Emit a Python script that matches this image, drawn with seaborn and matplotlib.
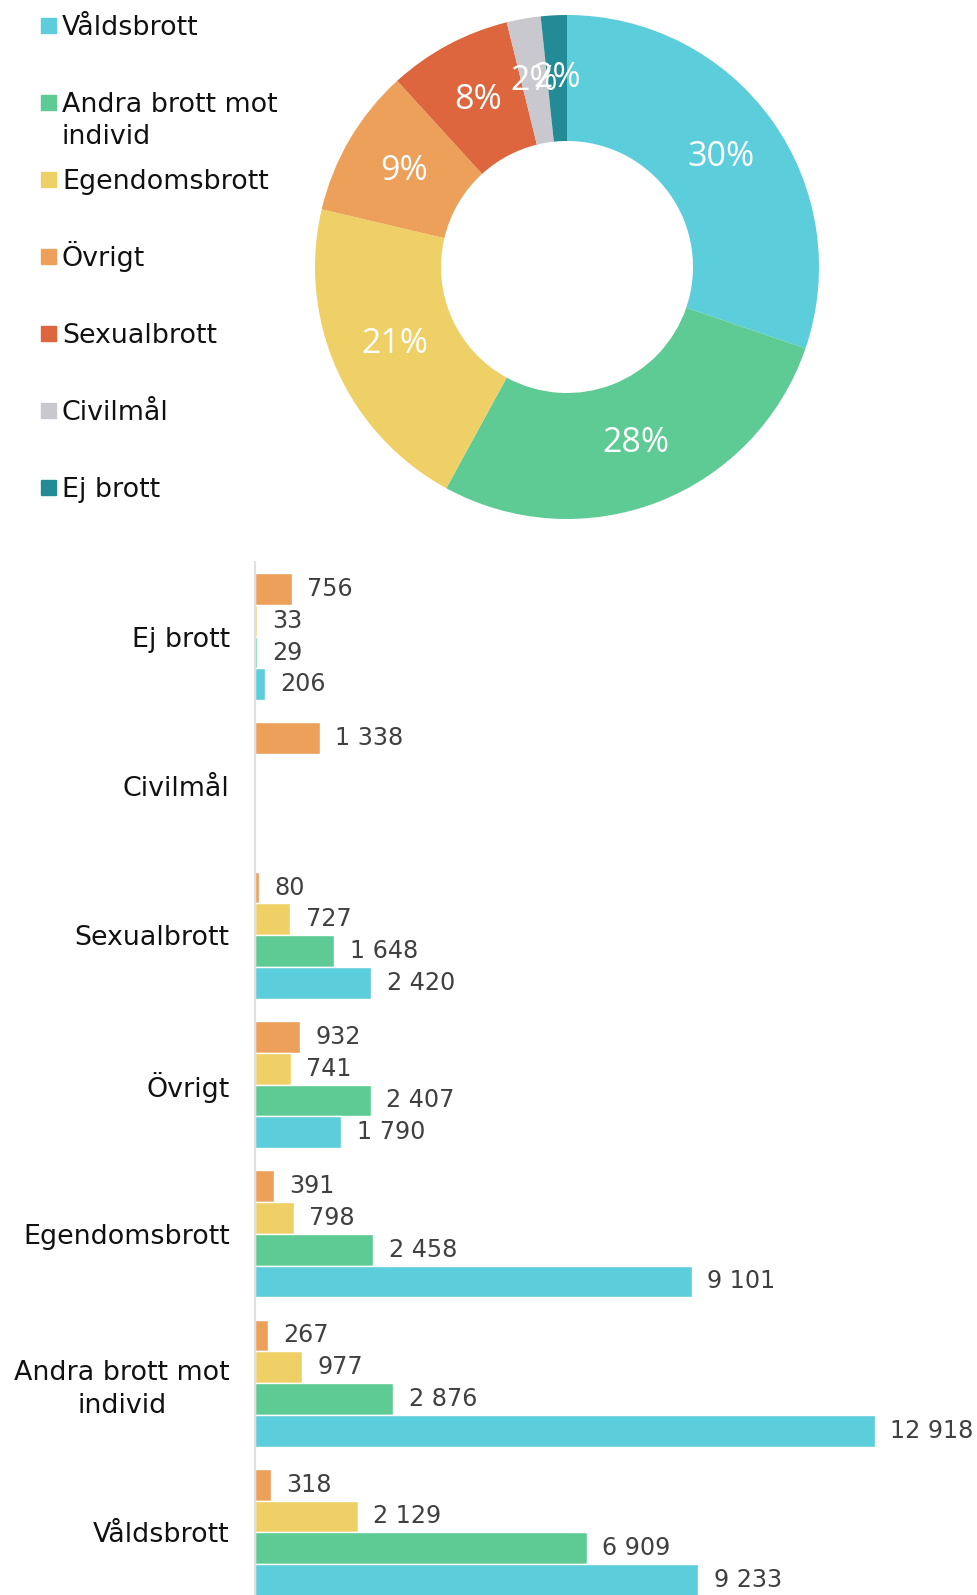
import seaborn as sns
import matplotlib.pyplot as plt
import matplotlib.patches as mpatches
import pandas as pd
import numpy as np

# categories, top to bottom in the bar chart
categories = ['Ej brott', 'Civilmål', 'Sexualbrott', 'Övrigt',
              'Egendomsbrott', 'Andra brott mot individ', 'Våldsbrott']
series_names = ['Serie 1', 'Serie 2', 'Serie 3', 'Serie 4']
serie_1 = [756, 1338, 80, 932, 391, 267, 318]              # orange
serie_2 = [33, np.nan, 727, 741, 798, 977, 2129]           # yellow
serie_3 = [29, np.nan, 1648, 2407, 2458, 2876, 6909]       # green
serie_4 = [206, np.nan, 2420, 1790, 9101, 12918, 9233]     # cyan
bar_colors = ['#ECA05A', '#EFD066', '#5DCB93', '#5BCDDB']

# donut order (clockwise from top) and colours
donut_order = ['Våldsbrott', 'Andra brott mot individ', 'Egendomsbrott',
               'Övrigt', 'Sexualbrott', 'Civilmål', 'Ej brott']
donut_colors = ['#5BCDDB', '#5DCB93', '#EFD066', '#ECA05A',
                '#DD663E', '#C8C8CE', '#228B96']

df = pd.DataFrame({'category': categories, 'Serie 1': serie_1, 'Serie 2': serie_2,
                   'Serie 3': serie_3, 'Serie 4': serie_4})
long_df = df.melt(id_vars='category', var_name='series', value_name='value').dropna()

totals = long_df.groupby('category')['value'].sum().reindex(donut_order)


def round_percent(values):
    # largest remainder rounding so the labels add up to 100
    raw = np.asarray(values, dtype=float) / np.sum(values) * 100
    floors = np.floor(raw).astype(int)
    rest = 100 - floors.sum()
    order = np.argsort(-(raw - floors))
    floors[order[:rest]] += 1
    return floors


pcts = round_percent(totals.values)

sns.set_style('white')
plt.rcParams['font.family'] = ['DejaVu Sans']

W, H = 977, 1595
fig = plt.figure(figsize=(W / 100, H / 100), dpi=100)

# donut
cx, cy, r = 567, 267, 252
ax_pie = fig.add_axes([(cx - r) / W, 1 - (cy + r) / H, 2 * r / W, 2 * r / H])
wedges, _ = ax_pie.pie(totals.values, colors=donut_colors, startangle=90,
                       counterclock=False, radius=1,
                       wedgeprops=dict(width=0.5, linewidth=0))
for w, p in zip(wedges, pcts):
    ang = np.deg2rad((w.theta1 + w.theta2) / 2)
    ax_pie.text(0.75 * np.cos(ang), 0.75 * np.sin(ang), f'{p}%',
                ha='center', va='center', color='white', fontsize=24.5,
                family=['Open Sans', 'DejaVu Sans'])
ax_pie.set_xlim(-1, 1)
ax_pie.set_ylim(-1, 1)

# legend drawn by hand so rows stay evenly spaced
for i, (name, col) in enumerate(zip(donut_order, donut_colors)):
    yc = 25.5 + i * 77
    fig.patches.append(mpatches.Rectangle((41 / W, 1 - (yc + 7.5) / H), 15 / W, 15 / H,
                                          transform=fig.transFigure, color=col))
    label = name.replace(' mot ', ' mot\n')
    if '\n' in label:
        fig.text(62 / W, 1 - (yc - 11) / H, label, ha='left', va='top',
                 fontsize=19.4, color='#111111', linespacing=1.35)
    else:
        fig.text(62 / W, 1 - (yc + 9.7) / H, label, ha='left', va='baseline',
                 fontsize=19.4, color='#111111')

# bars (the last bar runs into the bottom edge, as in the original)
top = 562
bottom = -12
ax = fig.add_axes([255.4 / W, bottom / H, (W - 255.4) / W, (H - top - bottom) / H])
sns.barplot(data=long_df, y='category', x='value', hue='series', order=categories,
            hue_order=series_names, palette=bar_colors, saturation=1, width=0.85,
            errorbar=None, orient='h', legend=False, ax=ax)
for c in ax.containers:
    ax.bar_label(c, labels=[f'{v:,.0f}'.replace(',', ' ') for v in c.datavalues],
                 padding=11, fontsize=17.2, color='#404040')
ax.set_xlim(0, 15045)
ax.set_ylim(len(categories) - 0.5, -0.5)
ax.set_xticks([])
ax.set_yticks(range(len(categories)), [c.replace(' mot ', ' mot\n') for c in categories])
ax.tick_params(axis='y', length=0, pad=18.5, labelsize=19.4, labelcolor='#111111')
for lab in ax.get_yticklabels():
    lab.set_multialignment('center')
    lab.set_linespacing(1.35)
ax.set_xlabel('')
ax.set_ylabel('')
for s in ['top', 'right', 'bottom']:
    ax.spines[s].set_visible(False)
ax.spines['left'].set_color('#e0e0e0')
ax.spines['left'].set_linewidth(1.5)

plt.savefig('out.png', dpi=100)
